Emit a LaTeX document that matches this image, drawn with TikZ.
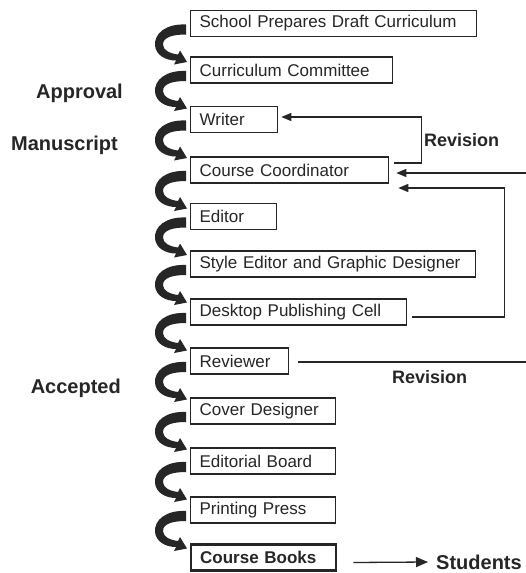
\documentclass[tikz,border=0pt]{standalone}
\usepackage{fontspec}
\setmainfont{Liberation Sans}
\usetikzlibrary{arrows.meta,calc}
\definecolor{ink}{HTML}{262626}
\newcommand\curlyarrow[2]{%
 \begin{scope}[shift={($(#1.west)+(-4,6)$)}]
  \fill[ink] (0,-5) .. controls (-20,-6) and (-32,4) .. (-31,16)
    .. controls (-30,26) and (-20,31) .. (-10,31)
    -- (-12,35) -- (1,32.5) -- (-6,21) -- (-8,25)
    .. controls (-16,24) and (-23,21) .. (-23,15)
    .. controls (-23,8) and (-14,5) .. (0,5) -- cycle;
 \end{scope}}
\begin{document}
\begin{tikzpicture}[x=1pt,y=-1pt,
  stepbox/.style={draw=ink, line width=1.3pt, rectangle, anchor=west, minimum height=26pt,
    inner xsep=9pt, inner ysep=0pt, align=left, font=\fontsize{17}{20}\selectfont, text=ink},
  conn/.style={draw=ink, line width=1.3pt},
  tip/.style={-{Triangle[length=10pt,width=8pt]}},
  lbl/.style={font=\bfseries\fontsize{20}{24}\selectfont, text=ink, inner sep=0pt},
  rev/.style={font=\bfseries\fontsize{18}{22}\selectfont, text=ink, inner sep=0pt}
]
\fill[white] (0,0) rectangle (526,573);
\useasboundingbox (0,0) rectangle (526,573);

\node[stepbox, text width=268pt] (s1) at (190,23.5) {School Prepares Draft Curriculum};
\node[stepbox, text width=184pt] (s2) at (190,70) {Curriculum Committee};
\node[stepbox, text width=69pt] (s3) at (190,119.5) {Writer};
\node[stepbox, text width=180pt] (s4) at (190,170) {Course Coordinator};
\node[stepbox, text width=68pt] (s5) at (190,216.5) {Editor};
\node[stepbox, text width=267pt] (s6) at (190,264) {Style Editor and Graphic Designer};
\node[stepbox, text width=198pt] (s7) at (190,312) {Desktop Publishing Cell};
\node[stepbox, text width=80pt] (s8) at (190,361) {Reviewer};
\node[stepbox, text width=127pt] (s9) at (190,411) {Cover Designer};
\node[stepbox, text width=127pt] (s10) at (190,461) {Editorial Board};
\node[stepbox, text width=127pt] (s11) at (190,510) {Printing Press};
\node[stepbox, text width=127pt, line width=2.3pt, font=\bfseries\fontsize{17}{20}\selectfont] (s12) at (190,557.5) {Course Books};

\curlyarrow{s1}{s2}
\curlyarrow{s2}{s3}
\curlyarrow{s3}{s4}
\curlyarrow{s4}{s5}
\curlyarrow{s5}{s6}
\curlyarrow{s6}{s7}
\curlyarrow{s7}{s8}
\curlyarrow{s8}{s9}
\curlyarrow{s9}{s10}
\curlyarrow{s10}{s11}
\curlyarrow{s11}{s12}

% revision loops
\draw[conn, tip] ($(s4.east)+(5,-7)$) -- ++(27,0) |- ($(s3.east)+(3,-2.5)$);
\coordinate (e1) at (526,173);
\coordinate (e2) at (526,362);
\draw[conn, tip] (e1) -- ($(s4.east)+(7,3)$);
\draw[conn] ($(s8.east)+(9,1)$) -- (e2);
\draw[conn, tip] ($(s7.east)+(5,5)$) -- ++(92,0) |- ($(s4.east)+(9,18)$);

\node[rev, anchor=west] (r1) at (424,140) {Revision};
\node[rev, anchor=west] (r2) at (392,377) {Revision};

\node[lbl, anchor=east] (la) at (123,93) {Approval};
\node[lbl, anchor=east] (lm) at (118,145) {Manuscript};
\node[lbl, anchor=east] (lc) at (121,388) {Accepted};

\node[lbl, anchor=west] (st) at (436,562) {Students};
\draw[conn, -{Triangle[length=12pt,width=10pt]}] ($(s12.east)+(16,5)$) -- ([xshift=-8pt]st.west);
\end{tikzpicture}
\end{document}
